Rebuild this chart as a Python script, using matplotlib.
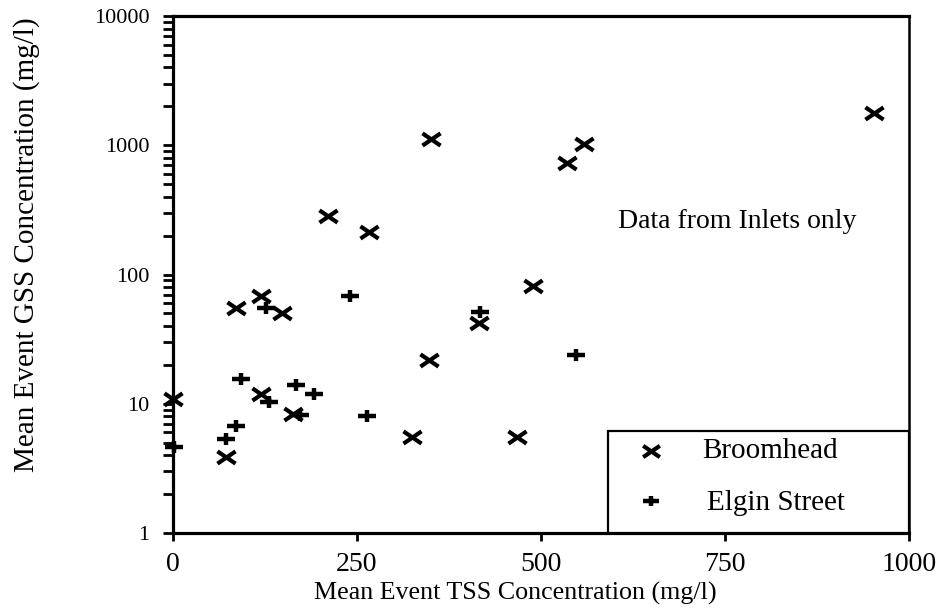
import matplotlib
matplotlib.use("Agg")
import matplotlib.pyplot as plt
from matplotlib.path import Path
from matplotlib.patches import Rectangle
from matplotlib.ticker import LogLocator, FixedLocator, NullFormatter

plt.rcParams['font.family'] = ['Liberation Serif', 'DejaVu Serif']

# Mean event concentrations (mg/l)
broomhead_tss = [0, 72, 86, 119, 148, 119, 163, 325, 348, 416, 467, 489, 211, 266, 350, 535, 558, 953]
broomhead_gss = [10.9, 3.9, 55, 68, 50, 12.0, 8.4, 5.5, 21.8, 42, 5.5, 81, 284, 214, 1110, 725, 1020, 1770]

elgin_tss = [2, 72, 85, 93, 126, 131, 167, 172, 192, 241, 264, 417, 548]
elgin_gss = [4.6, 5.3, 6.7, 15.5, 55, 10.3, 14.0, 8.2, 12.0, 68, 8.1, 51.6, 23.8]

x_ticks = [0, 250, 500, 750, 1000]
y_ticks = [1, 10, 100, 1000, 10000]

# Wide, flat cross and plus marker shapes
cross = Path([(-1, -0.68), (1, 0.68), (-1, 0.68), (1, -0.68)],
             [Path.MOVETO, Path.LINETO, Path.MOVETO, Path.LINETO])
plus = Path([(-1, 0), (1, 0), (0, -0.62), (0, 0.62)],
            [Path.MOVETO, Path.LINETO, Path.MOVETO, Path.LINETO])

fig = plt.figure(figsize=(9.38, 6.10), dpi=100)
ax = fig.add_axes([0.1844, 0.1262, 0.7847, 0.8476])

mk = dict(linestyle='none', color='black', markeredgecolor='black',
          markersize=13, markeredgewidth=3.0, clip_on=False, zorder=3)
ax.plot(broomhead_tss, broomhead_gss, marker=cross, **mk)
ax.plot(elgin_tss, elgin_gss, marker=plus, **dict(mk, markersize=13.5, markeredgewidth=3.2))

ax.set_yscale('log')
ax.set_xlim(0, 1000)
ax.set_ylim(1, 10000)

ax.xaxis.set_major_locator(FixedLocator(x_ticks))
ax.set_xticklabels([str(v) for v in x_ticks])
ax.xaxis.set_minor_locator(FixedLocator([]))
ax.yaxis.set_major_locator(FixedLocator(y_ticks))
ax.set_yticklabels([str(v) for v in y_ticks])
ax.yaxis.set_minor_locator(LogLocator(base=10, subs=range(2, 10)))
ax.yaxis.set_minor_formatter(NullFormatter())

ax.tick_params(axis='x', which='major', direction='out', length=6, width=2,
               pad=8, labelsize=20, colors='black')
ax.tick_params(axis='y', which='major', direction='out', length=7, width=2,
               pad=10, labelsize=16, colors='black')
ax.tick_params(axis='y', which='minor', direction='out', length=7, width=2)

for side in ['left', 'bottom', 'top']:
    ax.spines[side].set_linewidth(2.3)
ax.spines['right'].set_linewidth(1.8)

ax.set_xlabel('Mean Event TSS Concentration (mg/l)', fontsize=18.7)
ax.xaxis.set_label_coords(0.465, -0.094)
ax.set_ylabel('Mean Event GSS Concentration (mg/l)', fontsize=21)
ax.yaxis.set_label_coords(-0.18, 0.557)

ax.text(0.766, 0.602, 'Data from Inlets only', transform=ax.transAxes,
        ha='center', va='center', fontsize=20)

# Legend box in the lower-right corner
ax.add_patch(Rectangle((0.591, 0.0), 0.409, 0.197, transform=ax.transAxes,
                       facecolor='white', edgecolor='black', linewidth=1.6,
                       zorder=5, clip_on=False))
ax.plot([0.6495], [0.159], transform=ax.transAxes, marker=cross,
        **dict(mk, zorder=6, markersize=12))
ax.plot([0.6495], [0.0625], transform=ax.transAxes, marker=plus,
        **dict(mk, zorder=6, markersize=12, markeredgewidth=3.2))
ax.text(0.719, 0.159, 'Broomhead', transform=ax.transAxes, ha='left',
        va='center', fontsize=21, zorder=6)
ax.text(0.725, 0.0585, 'Elgin Street', transform=ax.transAxes, ha='left',
        va='center', fontsize=21, zorder=6)

fig.savefig('out.png', dpi=100)
